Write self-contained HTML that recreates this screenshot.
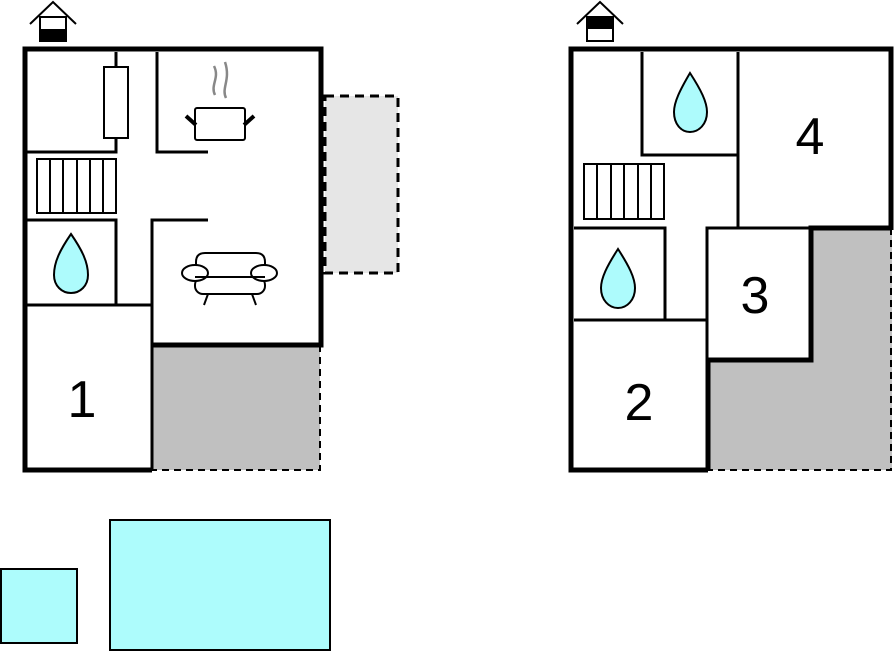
<!DOCTYPE html>
<html><head><meta charset="utf-8"><style>body{margin:0;background:#fff}svg{display:block}</style></head>
<body>
<svg width="894" height="652" viewBox="0 0 894 652" xmlns="http://www.w3.org/2000/svg" font-family="Liberation Sans, sans-serif">
<!-- LEFT PLAN -->
<rect x="325" y="96" width="73" height="177" fill="#e6e6e6" stroke="#000" stroke-width="3" stroke-dasharray="9,6"/>
<rect x="152" y="345" width="168" height="125" fill="#c0c0c0"/>
<path d="M320 345 V470 H152" fill="none" stroke="#000" stroke-width="2" stroke-dasharray="7,5"/>
<path d="M152 470 H25 V49 H321 V345 H152" fill="none" stroke="#000" stroke-width="5"/>
<g stroke="#000" stroke-width="3" fill="none">
<path d="M116 52 V152 H25"/>
<path d="M157 52 V152 H208"/>
<path d="M25 220 H116 V305"/>
<path d="M25 305 H152"/>
<path d="M208 220 H152 V470"/>
<rect x="104" y="67" width="24" height="71" fill="#fff" stroke-width="2"/>
<g stroke-width="2"><rect x="37" y="159" width="79" height="54"/>
<path d="M50 159V213M63 159V213M77 159V213M90 159V213M103 159V213"/></g>
</g>
<!-- pot -->
<g stroke="#000" stroke-width="2" fill="#fff">
<rect x="195" y="108" width="50" height="32" rx="2"/>
<path d="M186 116 L196 125 M254 116 L244 125" stroke-width="4"/>
</g>
<path d="M215 95 C210 85,220 78,214 66 M226 98 C221 88,231 80,225 62" stroke="#888" stroke-width="2.5" fill="none"/>
<!-- sofa -->
<g stroke="#000" stroke-width="2" fill="#fff">
<path d="M196 266 V262 Q196 253 205 253 H256 Q265 253 265 262 V266"/>
<rect x="195" y="277" width="70" height="17" rx="8"/>
<ellipse cx="195" cy="273" rx="13" ry="8"/>
<ellipse cx="264" cy="273" rx="13" ry="8"/>
<path d="M195 277 H265 M208 294 L204 305 M252 294 L256 305"/>
</g>
<path d="M71 234 C60 250,54 262,54 275 C54 286,62 293,71 293 C80 293,88 286,88 275 C88 262,82 250,71 234Z" fill="#adfbfc" stroke="#000" stroke-width="2"/>
<text x="82" y="417" font-size="52" text-anchor="middle">1</text>
<!-- house icon left -->
<g stroke="#000" stroke-width="2" fill="#fff"><path d="M30 24 L53 2 L76 24" fill="none"/><rect x="40" y="17" width="26" height="24"/></g>
<rect x="40" y="29" width="26" height="13" fill="#000"/>
<!-- RIGHT PLAN -->
<path d="M708 470 V358 H811 V228 H892 V470Z" fill="#c0c0c0"/>
<path d="M891 228 V470 H708" fill="none" stroke="#000" stroke-width="2" stroke-dasharray="7,5"/>
<path d="M708 470 H571 V49 H891 V230 M891 228 H811 V360 H708 V470" fill="none" stroke="#000" stroke-width="5"/>
<g stroke="#000" stroke-width="3" fill="none">
<path d="M642 52 V155 H738"/>
<path d="M738 52 V228 H811"/>
<path d="M574 228 H665 V320"/>
<path d="M574 320 H707"/>
<path d="M707 358 V228 H738"/>
<g stroke-width="2"><rect x="584" y="164" width="80" height="55"/>
<path d="M597 164V219M611 164V219M624 164V219M638 164V219M651 164V219"/></g>
</g>
<path d="M690 73 C680 90,674 102,674 112 C674 124,681 132,690 132 C699 132,707 124,707 112 C707 102,701 90,690 73Z" fill="#adfbfc" stroke="#000" stroke-width="2"/>
<path d="M618 249 C607 266,601 278,601 288 C601 300,609 308,618 308 C627 308,635 300,635 288 C635 278,629 266,618 249Z" fill="#adfbfc" stroke="#000" stroke-width="2"/>
<text x="810" y="154" font-size="52" text-anchor="middle">4</text>
<text x="755" y="313" font-size="52" text-anchor="middle">3</text>
<text x="639" y="420" font-size="52" text-anchor="middle">2</text>
<g stroke="#000" stroke-width="2" fill="#fff"><path d="M577 24 L600 2 L623 24" fill="none"/><rect x="587" y="17" width="26" height="24"/></g>
<rect x="587" y="17" width="26" height="12" fill="#000"/>
<!-- pools -->
<rect x="1" y="569" width="76" height="74" fill="#adfcfc" stroke="#000" stroke-width="2"/>
<rect x="110" y="520" width="220" height="130" fill="#adfcfc" stroke="#000" stroke-width="2"/>
</svg>
</body></html>
